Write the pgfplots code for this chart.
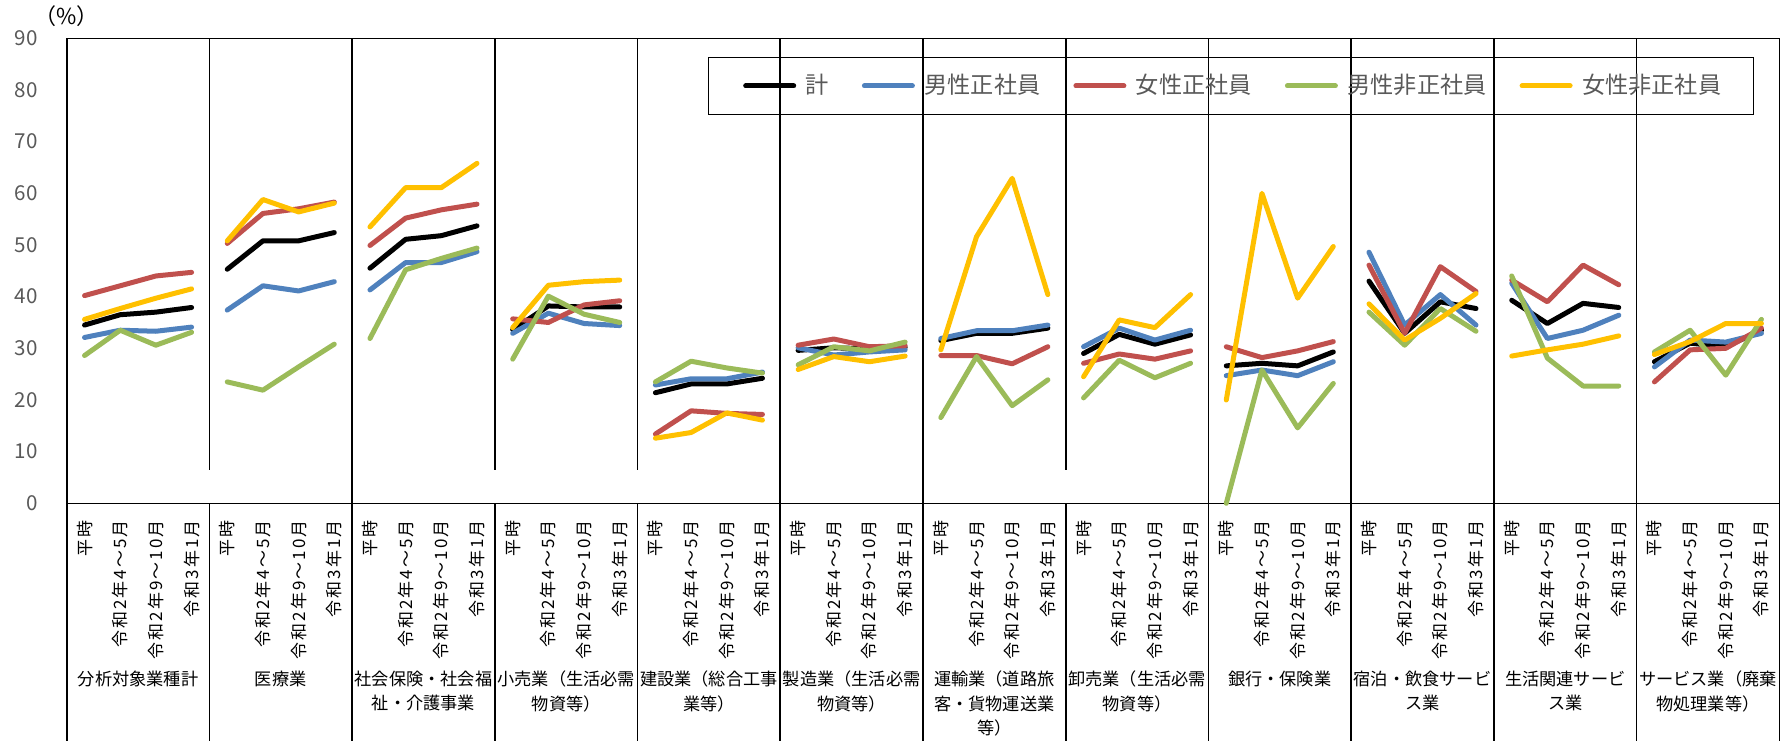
\documentclass[border=0pt]{standalone}
\usepackage{fontspec}
\setmainfont{Noto Sans CJK JP}
\newfontfamily\tickfont{Noto Sans CJK JP}[LetterSpace=12]
\usepackage{pgfplots}
\pgfplotsset{compat=1.18}
\usepackage{pgfplotstable}

\definecolor{cTot}{HTML}{000000}
\definecolor{cMreg}{HTML}{4F81BD}
\definecolor{cFreg}{HTML}{C0504D}
\definecolor{cMnon}{HTML}{9BBB59}
\definecolor{cFnon}{HTML}{FFC000}
\definecolor{txtgray}{HTML}{595959}

\tikzset{
  series/.style={line width=2.5pt, line join=round, line cap=round},
  sepline/.style={black, line width=0.8pt},
  grp/.style={anchor=north, align=center, inner sep=0pt,
              font=\fontsize{8.6}{12.2}\selectfont},
}

% Share of workers (%) by industry and period; nan rows break the lines between industries
\pgfplotstableread{
x    tot  mreg freg mnon fnon
0    34.5 32.1 40.2 28.6 35.6
1    36.5 33.5 42.1 33.5 37.7
2    37.0 33.3 44.0 30.6 39.7
3    37.9 34.1 44.7 33.1 41.5
3.5  nan  nan  nan  nan  nan
4    45.3 37.4 50.3 23.5 50.8
5    50.8 42.1 56.1 21.9 58.8
6    50.8 41.1 57.0 26.4 56.4
7    52.4 42.9 58.3 30.8 58.1
7.5  nan  nan  nan  nan  nan
8    45.5 41.3 49.9 31.9 53.5
9    51.1 46.6 55.2 45.2 61.1
10   51.8 46.6 56.8 47.4 61.1
11   53.7 48.7 57.9 49.4 65.8
11.5 nan  nan  nan  nan  nan
12   33.6 32.9 35.7 27.9 34.0
13   38.2 36.8 35.0 40.1 42.2
14   38.0 34.8 38.4 36.6 42.9
15   38.0 34.4 39.2 35.0 43.2
15.5 nan  nan  nan  nan  nan
16   21.4 22.9 13.4 23.5 12.6
17   23.1 24.1 17.9 27.5 13.7
18   23.1 24.1 17.4 26.2 17.5
19   24.2 25.4 17.2 25.2 16.1
19.5 nan  nan  nan  nan  nan
20   29.6 30.1 30.6 26.8 25.9
21   30.1 28.7 31.8 30.3 28.4
22   29.9 29.3 30.3 29.5 27.4
23   30.2 29.7 30.5 31.2 28.5
23.5 nan  nan  nan  nan  nan
24   31.5 31.9 28.6 16.6 29.7
25   32.9 33.4 28.6 28.4 51.6
26   32.9 33.4 27.0 18.9 62.9
27   33.9 34.5 30.3 23.9 40.4
27.5 nan  nan  nan  nan  nan
28   29.0 30.3 27.1 20.4 24.5
29   32.7 33.9 28.9 27.7 35.5
30   30.8 31.6 27.9 24.3 34.0
31   32.6 33.5 29.5 27.1 40.4
31.5 nan  nan  nan  nan  nan
32   26.6 24.7 30.3 0.0  20.0
33   27.1 25.8 28.2 25.8 60.0
34   26.6 24.7 29.5 14.6 39.7
35   29.3 27.4 31.3 23.2 49.7
35.5 nan  nan  nan  nan  nan
36   43.0 48.6 46.1 37.0 38.6
37   32.9 34.5 32.9 30.6 31.6
38   39.0 40.4 45.8 37.7 35.8
39   37.7 34.5 41.0 33.3 40.6
39.5 nan  nan  nan  nan  nan
40   39.3 42.6 43.2 44.0 28.5
41   34.8 31.9 39.0 28.1 29.7
42   38.7 33.5 46.1 22.7 30.8
43   37.9 36.4 42.3 22.7 32.4
43.5 nan  nan  nan  nan  nan
44   27.4 26.4 23.5 29.3 28.8
45   31.0 31.6 29.7 33.5 31.3
46   30.3 31.2 30.0 24.8 34.8
47   33.5 32.9 33.9 35.6 34.8
}\rates

\begin{document}
\begin{tikzpicture}
\path[use as bounding box] (-33.35pt,-118.85pt) rectangle (861.65pt,251.65pt);
\begin{axis}[
  scale only axis,
  width=856.3pt, height=232.5pt,
  xmin=-0.5, xmax=47.5, ymin=0, ymax=90,
  clip=false,
  unbounded coords=jump,
  axis line style={line width=0.8pt},
  major tick length=0pt,
  ytick={0,10,...,90},
  /pgf/number format/assume math mode=true,
  yticklabel style={font=\fontsize{10.3}{12}\selectfont, text=txtgray, inner sep=0pt, anchor=east},
  yticklabel shift=14.3pt,
  xtick={0,...,47},
  xticklabels={平時,令和2年4～5月,令和2年9～10月,令和3年1月,
               平時,令和2年4～5月,令和2年9～10月,令和3年1月,
               平時,令和2年4～5月,令和2年9～10月,令和3年1月,
               平時,令和2年4～5月,令和2年9～10月,令和3年1月,
               平時,令和2年4～5月,令和2年9～10月,令和3年1月,
               平時,令和2年4～5月,令和2年9～10月,令和3年1月,
               平時,令和2年4～5月,令和2年9～10月,令和3年1月,
               平時,令和2年4～5月,令和2年9～10月,令和3年1月,
               平時,令和2年4～5月,令和2年9～10月,令和3年1月,
               平時,令和2年4～5月,令和2年9～10月,令和3年1月,
               平時,令和2年4～5月,令和2年9～10月,令和3年1月,
               平時,令和2年4～5月,令和2年9～10月,令和3年1月},
  xticklabel style={font=\tickfont\fontsize{8.5}{10}\selectfont, rotate=90, anchor=east, inner sep=0pt},
  xticklabel shift=8.3pt,
  legend columns=5,
  legend cell align=left,
  legend image code/.code={
    \path (0pt,0pt) (26.5pt,0pt);
    \draw[#1, line cap=round] (1.25pt,0pt) -- (25.25pt,0pt);
  },
  legend style={
    at={(0.3745,0.9604)}, anchor=north west,
    draw=black, line width=0.65pt, fill=none,
    inner xsep=16pt, inner ysep=8.5pt,
    font=\fontsize{11.6}{13}\selectfont, text=txtgray,
    nodes={inner sep=0pt, text height=9.4pt, text depth=2.2pt},
    column sep=0pt,
    /tikz/every odd column/.append style={column sep=3.5pt},
    /tikz/every even column/.append style={column sep=15.25pt},
  },
]
\addplot[series, cTot]  table[x=x, y=tot]  {\rates};
\addplot[series, cMreg] table[x=x, y=mreg] {\rates};
\addplot[series, cFreg] table[x=x, y=freg] {\rates};
\addplot[series, cMnon] table[x=x, y=mnon] {\rates};
\addplot[series, cFnon] table[x=x, y=fnon] {\rates};
\legend{計,男性正社員,女性正社員,男性非正社員,女性非正社員}

% industry dividers
\pgfplotsinvokeforeach{3.5,11.5,15.5,27.5}{
  \draw[sepline] (axis cs:#1,90) -- (axis cs:#1,6.5);
  \draw[sepline] (axis cs:#1,0) -- (axis cs:#1,-46);
}
\pgfplotsinvokeforeach{7.5,19.5,23.5,31.5,35.5,39.5,43.5}{
  \draw[sepline] (axis cs:#1,90) -- (axis cs:#1,-46);
}
\pgfplotsinvokeforeach{-0.5,47.5}{
  \draw[sepline] (axis cs:#1,0) -- (axis cs:#1,-46);
}

% industry names
\node[grp] at (axis cs:1.5,-32.4)  {分析対象業種計};
\node[grp] at (axis cs:5.5,-32.4)  {医療業};
\node[grp] at (axis cs:9.5,-32.4)  {社会保険・社会福\\祉・介護事業};
\node[grp] at (axis cs:13.5,-32.4) {小売業（生活必需\\物資等）};
\node[grp] at (axis cs:17.5,-32.4) {建設業（総合工事\\業等）};
\node[grp] at (axis cs:21.5,-32.4) {製造業（生活必需\\物資等）};
\node[grp] at (axis cs:25.5,-32.4) {運輸業（道路旅\\客・貨物運送業\\等）};
\node[grp] at (axis cs:29.5,-32.4) {卸売業（生活必需\\物資等）};
\node[grp] at (axis cs:33.5,-32.4) {銀行・保険業};
\node[grp] at (axis cs:37.5,-32.4) {宿泊・飲食サービ\\ス業};
\node[grp] at (axis cs:41.5,-32.4) {生活関連サービ\\ス業};
\node[grp] at (axis cs:45.5,-32.4) {サービス業（廃棄\\物処理業等）};

% unit
\node[inner sep=0pt, font=\fontsize{11}{12}\selectfont] at (rel axis cs:0.0,1.048) {（\%）};
\end{axis}
\end{tikzpicture}
\end{document}
